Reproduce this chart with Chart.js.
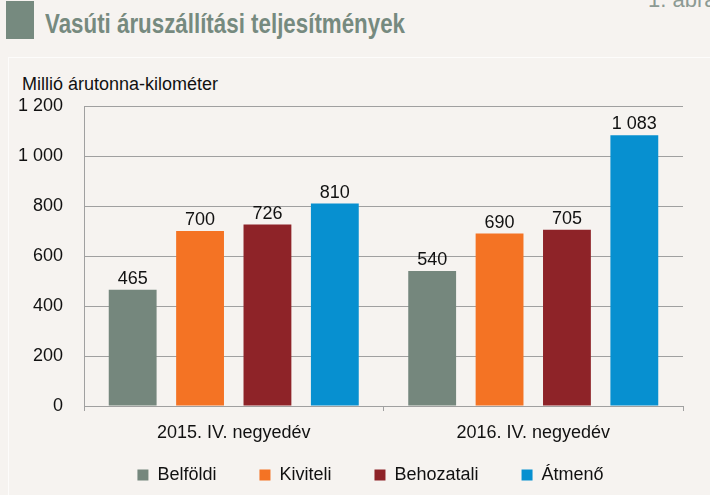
<!DOCTYPE html>
<html>
<head>
<meta charset="utf-8">
<script src="https://cdn.jsdelivr.net/npm/chart.js@4/dist/chart.umd.min.js"></script>
<style>
  body { margin: 0; background: #f6f3f0; width: 710px; height: 495px; overflow: hidden; position: relative;
         font-family: "Liberation Sans", Arial, sans-serif; }
  #mark { position: absolute; left: 6px; top: 1px; width: 28px; height: 38px; background: #768a7f; }
  #title { position: absolute; left: 45px; top: 11px; font-size: 27px; line-height: 27px; font-weight: bold;
           color: #768a7f; white-space: nowrap; transform-origin: 0 0; }
  #fig { position: absolute; left: 648px; top: -11px; font-size: 22px; line-height: 22px; color: #8c9a93; white-space: nowrap; }
  #panel { position: absolute; left: 8px; top: 57px; width: 760px; height: 500px; border-left: 1px solid #fdfcfb; border-top: 1px solid #fdfcfb; }
  #unit { position: absolute; left: 22px; top: 75px; font-size: 18px; line-height: 18px; color: #111; white-space: nowrap; }
  #chart1 { position: absolute; left: 0; top: 0; }
</style>
</head>
<body>
<div id="panel"></div>
<div id="mark"></div>
<div id="title">Vasúti áruszállítási teljesítmények</div>
<div id="fig">1. ábra</div>
<div id="unit">Millió árutonna-kilométer</div>
<canvas id="chart1" width="710" height="495"></canvas>
<script>
const categories = ["2015. IV. negyedév", "2016. IV. negyedév"];
const belfoldi = [465, 540];
const kiviteli = [700, 690];
const behozatali = [726, 705];
const atmeno = [810, 1083];

const font = '"Liberation Sans", Arial, sans-serif';

// narrow the heading to the width it has in the original
const title = document.getElementById("title");
title.style.transform = "scaleX(" + (360 / title.getBoundingClientRect().width) + ")";

function fmt(v) {
  return String(v).replace(/\B(?=(\d{3})+(?!\d))/g, " ");
}

const valueLabels = {
  id: "valueLabels",
  afterDatasetsDraw(chart) {
    const ctx = chart.ctx;
    ctx.save();
    ctx.font = "18px " + font;
    ctx.fillStyle = "#111";
    ctx.textAlign = "center";
    ctx.textBaseline = "alphabetic";
    chart.data.datasets.forEach((ds, i) => {
      chart.getDatasetMeta(i).data.forEach((bar, j) => {
        ctx.fillText(fmt(ds.data[j]), bar.x, bar.y - 6);
      });
    });
    ctx.restore();
  },
};

// the legend sits a bit right of the canvas centre and higher than the layout puts it
const legendPlace = {
  id: "legendPlace",
  afterLayout(chart) {
    const lg = chart.legend;
    lg.left = 58;
    lg.right = 683;
    lg.width = lg.right - lg.left;
    lg.top = 423;
    lg.bottom = 495;
    lg.height = lg.bottom - lg.top;
  },
};

var ctx = document.getElementById("chart1").getContext("2d");
var myChart = new Chart(ctx, {
  type: "bar",
  data: {
    labels: categories,
    datasets: [
      { label: "Belföldi", data: belfoldi, backgroundColor: "#75877d" },
      { label: "Kiviteli", data: kiviteli, backgroundColor: "#f47324" },
      { label: "Behozatali", data: behozatali, backgroundColor: "#8e2328" },
      { label: "Átmenő", data: atmeno, backgroundColor: "#0790d0" },
    ],
  },
  options: {
    responsive: false,
    animation: false,
    layout: { padding: { left: 14, right: 27, top: 106, bottom: 0 } },
    datasets: {
      bar: { categoryPercentage: 0.9, barPercentage: 0.71 },
    },
    plugins: {
      legend: {
        position: "bottom",
        maxHeight: 49,
        labels: {
          boxWidth: 11,
          boxHeight: 11,
          padding: 43,
          color: "#111",
          font: { family: font, size: 18 },
        },
      },
      tooltip: { enabled: false },
    },
    scales: {
      x: {
        afterFit: (scale) => { scale.height = 40; },
        grid: {
          offset: true,
          tickLength: 5,
          tickColor: "#a0a0a0",
          // only the right edge of the plot gets a full line
          color: (c) => (c.index === categories.length ? "#a0a0a0" : "rgba(0,0,0,0)"),
        },
        border: { color: "#a0a0a0" },
        ticks: { color: "#111", padding: 11, font: { family: font, size: 18 } },
      },
      y: {
        min: 0,
        max: 1200,
        afterFit: (scale) => { scale.width = 70; },
        grid: { color: "#a0a0a0", drawTicks: false },
        border: { color: "#a0a0a0" },
        ticks: { stepSize: 200, color: "#111", padding: 21, font: { family: font, size: 18 }, callback: (v) => fmt(v) },
      },
    },
  },
  plugins: [valueLabels, legendPlace],
});
</script>
</body>
</html>
